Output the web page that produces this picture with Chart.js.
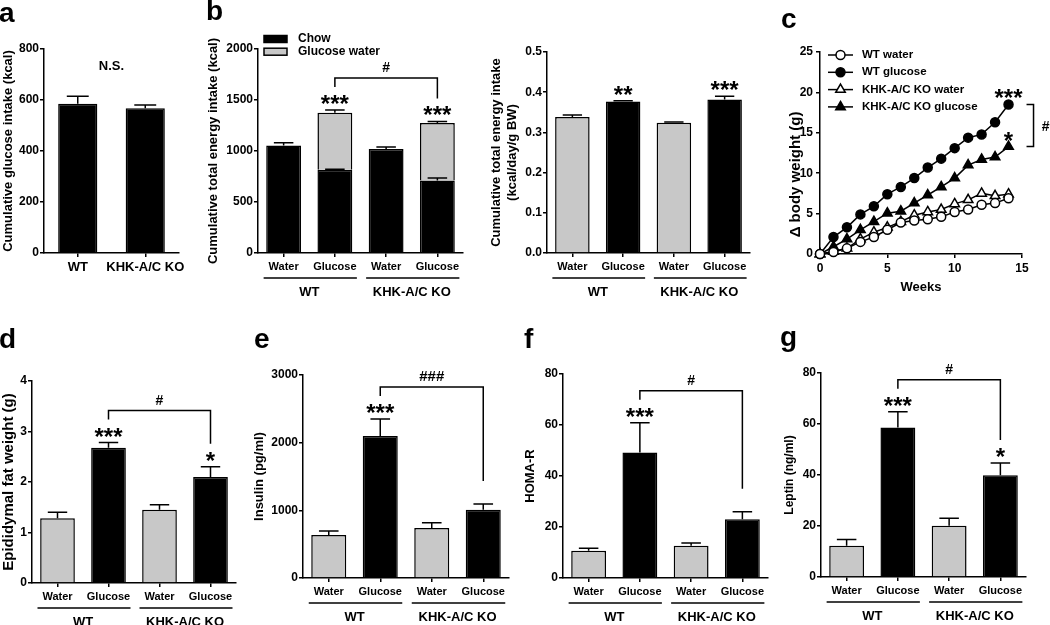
<!DOCTYPE html>
<html>
<head>
<meta charset="utf-8">
<script src="https://cdn.jsdelivr.net/npm/chart.js@4.4.1/dist/chart.umd.min.js"></script>
<style>
html, body { margin:0; padding:0; background:#fff; }
#fig { position:relative; width:1050px; height:625px; overflow:hidden; }
#fig canvas { position:absolute; left:0; top:0; }
</style>
</head>
<body>
<div id="fig">
    <canvas id="chartA"  width="1050" height="625"></canvas>
    <canvas id="chartB"  width="1050" height="625"></canvas>
    <canvas id="chartB2" width="1050" height="625"></canvas>
    <canvas id="chartC"  width="1050" height="625"></canvas>
    <canvas id="chartD"  width="1050" height="625"></canvas>
    <canvas id="chartE"  width="1050" height="625"></canvas>
    <canvas id="chartF"  width="1050" height="625"></canvas>
    <canvas id="chartG"  width="1050" height="625"></canvas>
</div>
<script>
// ── Datos ─────────────────────────────────────────────────────────────────────
const TREATMENTS = ['Water', 'Glucose', 'Water', 'Glucose'];
const GENOTYPES  = ['WT', 'KHK-A/C KO'];

const A_LABELS  = ['WT', 'KHK-A/C KO'];
const A_GLUCOSE = [585, 568];
const A_SEM     = [30, 12];

const B_CHOW       = [1055, 815, 1020, 710];
const B_CHOW_SEM   = [25, 7, 20, 25];
const B_GLUWATER   = [0, 560, 0, 565];
const B_TOTAL_SEM  = [0, 28, 0, 15];
const B_STARS      = ['', '***', '', '***'];

const B2_ENERGY = [0.338, 0.377, 0.324, 0.382];
const B2_SEM    = [0.005, 0.002, 0.002, 0.008];
const B2_STARS  = ['', '**', '', '***'];

const WEEKS        = [0, 1, 2, 3, 4, 5, 6, 7, 8, 9, 10, 11, 12, 13, 14];
const C_WT_WATER   = [0, 0.25, 0.7, 1.5, 2.1, 3.0, 3.9, 4.15, 4.3, 4.6, 5.2, 5.5, 6.1, 6.3, 6.9];
const C_WT_GLUCOSE = [0, 2.1, 3.3, 4.9, 5.9, 7.4, 8.3, 9.4, 10.7, 11.8, 13.1, 14.4, 14.8, 16.3, 18.5];
const C_KO_WATER   = [0, 0.3, 0.7, 1.85, 2.7, 3.3, 4.0, 4.8, 5.2, 5.5, 6.2, 6.7, 7.5, 7.2, 7.4];
const C_KO_GLUCOSE = [0, 0.9, 1.85, 3.0, 4.0, 5.05, 5.3, 6.3, 7.3, 8.3, 9.4, 11.0, 11.7, 12.0, 13.3];

const D_FAT   = [1.28, 2.68, 1.45, 2.1];
const D_SEM   = [0.12, 0.1, 0.1, 0.2];
const D_STARS = ['', '***', '', '*'];

const E_INSULIN = [635, 2100, 740, 1010];
const E_SEM     = [60, 250, 75, 85];
const E_STARS   = ['', '***', '', ''];

const F_HOMA  = [10.7, 49.2, 12.6, 23];
const F_SEM   = [1, 11.7, 1.1, 3];
const F_STARS = ['', '***', '', ''];

const G_LEPTIN = [12.3, 58.6, 20.1, 39.9];
const G_SEM    = [2.4, 6.2, 2.9, 4.8];
const G_STARS  = ['', '***', '', '*'];

// ── Estilo general ────────────────────────────────────────────────────────────
const FONT  = "'Liberation Sans', Arial, Helvetica, sans-serif";
const BLACK = '#000000';
const GRAY  = '#c8c8c8';

Chart.defaults.font.family = FONT;
Chart.defaults.font.weight = 'bold';
Chart.defaults.color = BLACK;
Chart.defaults.animation = false;
Chart.defaults.plugins.legend.display = false;
Chart.defaults.plugins.tooltip.enabled = false;

// area de trazado de cada panel (px de la pagina)
function pad(box, yW, xH) {
    return { left: box.l - yW, top: box.t, right: 1050 - box.r, bottom: 625 - box.b - xH };
}

function yAxis(o) {
    return {
        min: 0, max: o.max, stacked: true,
        afterFit: s => { s.width = o.yW; },
        border: { color: BLACK, width: 1.5 },
        grid: { drawOnChartArea: false, drawTicks: true, tickLength: 4, color: BLACK, lineWidth: 1.5 },
        ticks: { stepSize: o.step, padding: o.tickPad || 1, font: { size: 12, weight: 'bold' }, color: BLACK,
                 callback: o.fmt || (v => String(v)) },
        title: { display: true, text: o.title, color: BLACK, padding: 0, align: o.titleAlign || 'center',
                 font: { size: o.titleSize || 13, weight: 'bold' } }
    };
}

function xCat(o) {
    return {
        type: 'category', offset: true, stacked: true,
        afterFit: s => { s.height = 30; },
        border: { color: BLACK, width: 1.5 },
        grid: { drawOnChartArea: false, drawTicks: true, tickLength: 4, color: BLACK, lineWidth: 1.5, offset: false },
        ticks: { padding: 3, maxRotation: 0, autoSkip: false, color: BLACK,
                 font: { size: o.tickSize || 11, weight: 'bold' } }
    };
}

function txt(ctx, s, x, y, size, align, base) {
    ctx.font = `bold ${size}px ${FONT}`;
    ctx.textAlign = align || 'center';
    ctx.textBaseline = base || 'alphabetic';
    ctx.fillText(s, x, y);
}

// ── Anotaciones: barras de error, asteriscos, corchetes, grupos ───────────────
function annot(o) {
    return { id: 'annot', afterDatasetsDraw(chart) {
        const ctx = chart.ctx, ys = chart.scales.y, area = chart.chartArea;
        const bars = chart.getDatasetMeta(0).data;
        const tops = [];
        ctx.save();
        ctx.strokeStyle = BLACK; ctx.fillStyle = BLACK; ctx.lineWidth = 1.5;

        o.errors.forEach(e => e.value.forEach((v, i) => {
            if (!e.sem[i]) return;
            const bx = bars[i].x, cap = bars[i].width * 0.28;
            const y0 = ys.getPixelForValue(v), y1 = ys.getPixelForValue(v + e.sem[i]);
            ctx.beginPath();
            ctx.moveTo(bx, y0); ctx.lineTo(bx, y1);
            ctx.moveTo(bx - cap, y1); ctx.lineTo(bx + cap, y1);
            ctx.stroke();
            tops[i] = Math.min(tops[i] === undefined ? Infinity : tops[i], y1);
        }));

        (o.stars || []).forEach((s, i) => {
            if (s) txt(ctx, s, bars[i].x, tops[i] + 2, 24);
        });

        if (o.bracket) {
            const [a, b] = o.bracket.between;
            const la = tops[a] - 23, lb = tops[b] - 23;
            const top = Math.min(la, lb) - 9;
            ctx.beginPath();
            ctx.moveTo(bars[a].x, la); ctx.lineTo(bars[a].x, top);
            ctx.lineTo(bars[b].x, top); ctx.lineTo(bars[b].x, lb);
            ctx.stroke();
            txt(ctx, o.bracket.label, (bars[a].x + bars[b].x) / 2, top - 6, o.bracket.size || 14);
        }

        if (o.note) {
            const t = Math.min(...tops.filter(v => v !== undefined));
            txt(ctx, o.note, (area.left + area.right) / 2, t - 30, 13, 'center', 'middle');
        }

        if (o.groups) {
            const yl = area.bottom + 25;
            o.groups.forEach((g, k) => {
                const c0 = bars[2 * k].x, c1 = bars[2 * k + 1].x;
                ctx.beginPath(); ctx.moveTo(c0 - 20, yl); ctx.lineTo(c1 + 22, yl); ctx.stroke();
                txt(ctx, g, (c0 + c1) / 2, area.bottom + 39, 13, 'center', 'middle');
            });
        }

        if (o.legend) {
            o.legend.forEach((it, k) => {
                const ly = area.top - 10 + k * 12.7;
                ctx.fillStyle = it.color;
                ctx.fillRect(area.left + 6, ly - 3.5, 23, 7);
                ctx.strokeRect(area.left + 6, ly - 3.5, 23, 7);
                ctx.fillStyle = BLACK;
                txt(ctx, it.label, area.left + 40, ly, 12, 'left', 'middle');
            });
        }

        if (o.letter) txt(ctx, o.letter[0], o.letter[1], o.letter[2], 28, 'left');
        ctx.restore();
    }};
}

function barPanel(id, o) {
    const datasets = o.series.map(s => ({
        data: s.data, backgroundColor: s.color, borderColor: BLACK, borderWidth: 1.5,
        borderSkipped: 'start', barPercentage: o.barPct || 0.68, categoryPercentage: 1
    }));
    new Chart(document.getElementById(id), {
        type: 'bar',
        data: { labels: o.labels, datasets },
        options: {
            responsive: false,
            layout: { padding: pad(o.box, o.yW, 30) },
            scales: { x: xCat(o), y: yAxis(o) }
        },
        plugins: [annot(o)]
    });
}

const TREAT_COLORS = [GRAY, BLACK, GRAY, BLACK];

// ── a ─────────────────────────────────────────────────────────────────────────
barPanel('chartA', {
    box: { l: 44, t: 49, r: 179, b: 253 }, yW: 43, max: 800, step: 200, tickSize: 13, barPct: 0.58,
    title: 'Cumulative glucose intake (kcal)', labels: A_LABELS,
    series: [{ data: A_GLUCOSE, color: BLACK }],
    errors: [{ value: A_GLUCOSE, sem: A_SEM }],
    note: 'N.S.', letter: ['a', -1, 22]
});

// ── b (apilado) ───────────────────────────────────────────────────────────────
const B_TOTAL = B_CHOW.map((v, i) => v + B_GLUWATER[i]);
barPanel('chartB', {
    box: { l: 258, t: 49, r: 463, b: 253 }, yW: 52, max: 2000, step: 500,
    title: 'Cumulative total energy intake (kcal)', labels: TREATMENTS,
    series: [{ data: B_CHOW, color: BLACK }, { data: B_GLUWATER, color: GRAY }],
    errors: [{ value: B_CHOW, sem: B_CHOW_SEM }, { value: B_TOTAL, sem: B_TOTAL_SEM }],
    stars: B_STARS, bracket: { between: [1, 3], label: '#' }, groups: GENOTYPES,
    legend: [{ label: 'Chow', color: BLACK }, { label: 'Glucose water', color: GRAY }],
    letter: ['b', 206, 20]
});

barPanel('chartB2', {
    box: { l: 547, t: 52, r: 750, b: 253 }, yW: 58, max: 0.5, step: 0.1, fmt: v => v.toFixed(1),
    title: ['Cumulative total energy intake', '(kcal/day/g BW)'], labels: TREATMENTS,
    series: [{ data: B2_ENERGY, color: TREAT_COLORS }],
    errors: [{ value: B2_ENERGY, sem: B2_SEM }],
    stars: B2_STARS, groups: GENOTYPES
});

// ── c (curvas de peso) ────────────────────────────────────────────────────────
function serie(vals, style, filled) {
    return {
        data: WEEKS.map((w, i) => ({ x: w, y: vals[i] })),
        borderColor: BLACK, borderWidth: 1.5, tension: 0, clip: false,
        pointStyle: style, pointRadius: style === 'triangle' ? 5.5 : 4.5,
        pointBorderWidth: 1.5, pointBorderColor: BLACK,
        pointBackgroundColor: filled ? BLACK : '#ffffff'
    };
}
const C_NAMES = ['WT water', 'WT glucose', 'KHK-A/C KO water', 'KHK-A/C KO glucose'];

new Chart(document.getElementById('chartC'), {
    type: 'line',
    data: { datasets: [
        serie(C_WT_WATER, 'circle', false),
        serie(C_WT_GLUCOSE, 'circle', true),
        serie(C_KO_WATER, 'triangle', false),
        serie(C_KO_GLUCOSE, 'triangle', true)
    ]},
    options: {
        responsive: false,
        layout: { padding: pad({ l: 820, t: 52, r: 1022, b: 254 }, 33, 41) },
        scales: {
            x: {
                type: 'linear', min: 0, max: 15,
                afterFit: s => { s.height = 41; },
                border: { color: BLACK, width: 1.5 },
                grid: { drawOnChartArea: false, drawTicks: true, tickLength: 4, color: BLACK, lineWidth: 1.5 },
                ticks: { stepSize: 5, padding: 3, color: BLACK, font: { size: 12, weight: 'bold' } },
                title: { display: true, text: 'Weeks', color: BLACK, padding: 0, font: { size: 13, weight: 'bold' } }
            },
            y: Object.assign(yAxis({ yW: 33, max: 25, step: 5, tickPad: 3, title: '    Δ body weight (g)',
                                     titleSize: 15, titleAlign: 'start' }), { stacked: false })
        }
    },
    plugins: [{ id: 'cAnnot', afterDatasetsDraw(chart) {
        const ctx = chart.ctx, area = chart.chartArea;
        const last = k => { const d = chart.getDatasetMeta(k).data; return d[d.length - 1]; };
        const pG = last(1), pK = last(3);
        ctx.save();
        ctx.strokeStyle = BLACK; ctx.fillStyle = BLACK; ctx.lineWidth = 1.5;
        txt(ctx, '***', pG.x, pG.y - 13 + 14, 24);
        txt(ctx, '*', pK.x, pK.y - 12 + 14, 24);
        const bx = pG.x + 25;
        ctx.beginPath();
        ctx.moveTo(bx - 7, pG.y); ctx.lineTo(bx, pG.y); ctx.lineTo(bx, pK.y); ctx.lineTo(bx - 7, pK.y);
        ctx.stroke();
        txt(ctx, '#', bx + 12, (pG.y + pK.y) / 2 + 5, 14);

        chart.data.datasets.forEach((ds, k) => {
            const ly = area.top + 3 + k * 17.3;
            ctx.beginPath(); ctx.moveTo(area.left + 8, ly); ctx.lineTo(area.left + 33, ly); ctx.stroke();
            ctx.fillStyle = ds.pointBackgroundColor;
            Chart.helpers.drawPoint(ctx, { pointStyle: ds.pointStyle, radius: ds.pointRadius, borderWidth: 1.5, rotation: 0 },
                                    area.left + 20.5, ly);
            ctx.fillStyle = BLACK;
            txt(ctx, C_NAMES[k], area.left + 42, ly, 11.5, 'left', 'middle');
        });
        txt(ctx, 'c', 781, 28, 28, 'left');
        ctx.restore();
    }}]
});

// ── d, e, f, g ────────────────────────────────────────────────────────────────
barPanel('chartD', {
    box: { l: 32, t: 381, r: 236, b: 583 }, yW: 32, max: 4, step: 1, titleSize: 15,
    title: 'Epididymal fat weight (g)', labels: TREATMENTS,
    series: [{ data: D_FAT, color: TREAT_COLORS }],
    errors: [{ value: D_FAT, sem: D_SEM }],
    stars: D_STARS, bracket: { between: [1, 3], label: '#' }, groups: GENOTYPES,
    letter: ['d', -1, 348]
});

barPanel('chartE', {
    box: { l: 303, t: 375, r: 509, b: 578 }, yW: 51, max: 3000, step: 1000,
    title: 'Insulin (pg/ml)', labels: TREATMENTS,
    series: [{ data: E_INSULIN, color: TREAT_COLORS }],
    errors: [{ value: E_INSULIN, sem: E_SEM }],
    stars: E_STARS, bracket: { between: [1, 3], label: '###', size: 15 }, groups: GENOTYPES,
    letter: ['e', 254, 348]
});

barPanel('chartF', {
    box: { l: 563, t: 374, r: 768, b: 578 }, yW: 40, max: 80, step: 20,
    title: 'HOMA-R', labels: TREATMENTS,
    series: [{ data: F_HOMA, color: TREAT_COLORS }],
    errors: [{ value: F_HOMA, sem: F_SEM }],
    stars: F_STARS, bracket: { between: [1, 3], label: '#' }, groups: GENOTYPES,
    letter: ['f', 524, 348]
});

barPanel('chartG', {
    box: { l: 821, t: 373, r: 1026, b: 577 }, yW: 39, max: 80, step: 20, titleSize: 12,
    title: 'Leptin (ng/ml)', labels: TREATMENTS,
    series: [{ data: G_LEPTIN, color: TREAT_COLORS }],
    errors: [{ value: G_LEPTIN, sem: G_SEM }],
    stars: G_STARS, bracket: { between: [1, 3], label: '#' }, groups: GENOTYPES,
    letter: ['g', 780, 346]
});
</script>
</body>
</html>
